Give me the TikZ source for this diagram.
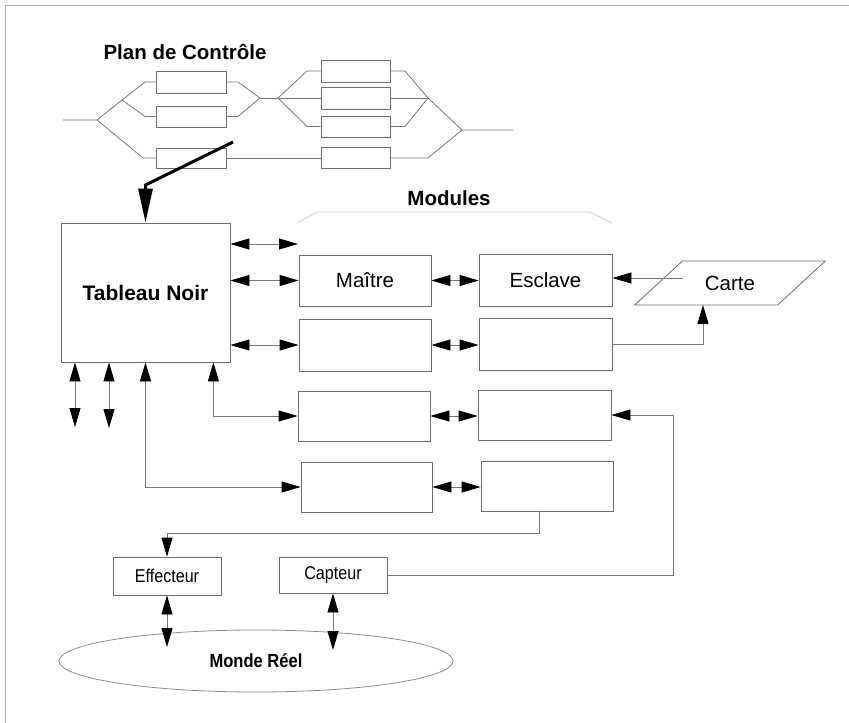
\documentclass[tikz,border=0pt]{standalone}
\usepackage{fontspec}
\setmainfont{Liberation Sans}
\newfontfamily\narrowsans[FakeStretch=0.87]{Liberation Sans}
\usetikzlibrary{arrows.meta,shapes.geometric,calc}
\definecolor{boxgray}{RGB}{110,110,110}
\definecolor{linegray}{RGB}{120,120,120}
\definecolor{framegray}{RGB}{175,175,175}
\definecolor{ellgray}{RGB}{140,140,140}
\definecolor{faintgray}{RGB}{205,205,205}
\begin{document}
\begin{tikzpicture}[x=1pt,y=-1pt,
  box/.style 2 args={draw=boxgray,line width=0.8pt,inner sep=0pt,minimum width=#1,minimum height=#2},
  title/.style={font=\fontsize{20.5}{24}\selectfont\bfseries},
  bigtxt/.style={font=\fontsize{20.5}{24}\selectfont},
  smalltxt/.style={font=\narrowsans\fontsize{18.5}{22}\selectfont},
  conn/.style={draw=linegray,line width=0.8pt},
  >={Triangle[length=19pt,width=11pt,color=black]},
  bigarrow/.style={draw=black,line width=3pt,-{Triangle[length=34pt,width=14pt,color=black]}}]
\fill[white] (0,0) rectangle (849,723);
\useasboundingbox (0,0) rectangle (849,723);
% page frame
\draw[framegray,line width=1pt] (5,723) -- (5,5) -- (849,5);

% ---------- Plan de Controle ----------
\node[title] (plan) at (185,52) {Plan de Contrôle};
\node[box={70}{22}] (cp1) at (191,82) {};
\node[box={70}{21}] (cp2) at (191,116.5) {};
\node[box={70}{20}] (cp3) at (191,158) {};
\node[box={69}{22}] (cp4) at (355.5,71) {};
\node[box={69}{22}] (cp5) at (355.5,98) {};
\node[box={69}{21}] (cp6) at (355.5,126.5) {};
\node[box={69}{21}] (cp7) at (355.5,158) {};
\coordinate (in) at (63,120);
\coordinate (j1) at (97,120);
\coordinate (j2) at (122,100);
\coordinate (j3) at (260,98);
\coordinate (j4) at (278,98);
\coordinate (j5) at (428,98);
\coordinate (j6) at (462,130);
\coordinate (out) at (513,130);
\draw[conn] (in) -- (j1) -- (j2) -- (145,82) -- (cp1.west);
\draw[conn] (j2) -- (145,116.5) -- (cp2.west);
\draw[conn] (j1) -- (143,158) -- (cp3.west);
\draw[conn] (cp1.east) -- (238,82) -- (j3);
\draw[conn] (cp2.east) -- (238,116.5) -- (j3);
\draw[conn] (j3) -- (j4);
\draw[conn] (j4) -- (307,71) -- (cp4.west);
\draw[conn] (j4) -- (cp5.west);
\draw[conn] (j4) -- (307,126.5) -- (cp6.west);
\draw[conn] (cp4.east) -- (405,71) -- (j5);
\draw[conn] (cp5.east) -- (j5);
\draw[conn] (cp6.east) -- (405,126.5) -- (j5);
\draw[conn] (j5) -- (j6) -- (out);
\draw[conn] (cp7.east) -- (428,158) -- (j6);
\draw[conn] (cp3.east) -- (cp7.west);

% ---------- Tableau Noir ----------
\node[box={169}{139},font=\fontsize{21}{25}\selectfont\bfseries] (tn) at (145.5,292.5) {Tableau Noir};
\coordinate (ts) at (233,142);
\draw[bigarrow] (ts) -- (145.5,185) -- (tn.north);

% ---------- Modules ----------
\node[title] (mod) at (449,198) {Modules};
\draw[faintgray,line width=0.8pt] (297,223) -- (317,212) -- (590,212) -- (612,223);
\node[box={132}{51},bigtxt] (m1) at (365,280.5) {Maître};
\node[box={133}{52},bigtxt] (s1) at (545.5,280) {Esclave};
\node[box={132}{52}] (m2) at (365,345) {};
\node[box={133}{52}] (s2) at (545.5,344) {};
\node[box={132}{50}] (m3) at (364,416) {};
\node[box={133}{50}] (s3) at (544.5,415) {};
\node[box={131}{50}] (m4) at (366.5,487) {};
\node[box={132}{50}] (s4) at (547,486) {};
\foreach \a/\b in {m1/s1,m2/s2,m3/s3,m4/s4}
  \draw[conn,<->] (\a.east) -- (\a.east -| \b.west);

% Tableau Noir to modules
\coordinate (free) at (298,244);
\draw[conn,<->] (free -| tn.east) -- (free);
\draw[conn,<->] (m1.west -| tn.east) -- (m1.west);
\draw[conn,<->] (m2.west -| tn.east) -- (m2.west);
\draw[conn,<->] ($(tn.south east)+(-17,0)$) |- (m3.west);
\draw[conn,<->] (tn.south) |- (m4.west);
\coordinate (d1) at (75,427);
\coordinate (d2) at (109,428);
\draw[conn,<->] (d1 |- tn.south) -- (d1);
\draw[conn,<->] (d2 |- tn.south) -- (d2);

% ---------- Carte ----------
\node[draw=boxgray,line width=0.8pt,trapezium,trapezium left angle=30,trapezium right angle=150,
  trapezium stretches=true,minimum width=192pt,minimum height=44pt,inner sep=0pt,bigtxt] (carte) at (730,283) {Carte};
\coordinate (cl) at (683,278);
\coordinate (cb) at (703,305);
\draw[conn,->] (cl) -- (cl -| s1.east);
\draw[conn,->] (s2.east) -| (cb);

% ---------- Effecteur / Capteur ----------
\node[box={108}{38},smalltxt] (eff) at (167,576) {Effecteur};
\node[box={108}{36},smalltxt] (cap) at (333,575) {Capteur};
\draw[conn,->] ($(s4.south)+(-8,0)$) -- ++(0,22) -| (eff.north);
\coordinate (k) at (673,415);
\draw[conn,->] (cap.east) -| (k) -- (k -| s3.east);

% ---------- Monde Reel ----------
\node[draw=ellgray,line width=0.8pt,ellipse,minimum width=394pt,minimum height=62pt,inner sep=0pt,
  font=\narrowsans\fontsize{19}{22}\selectfont\bfseries] (monde) at (256,661) {Monde Réel};
\coordinate (w1) at (167,647);
\coordinate (w2) at (333,650);
\draw[conn,<->] (eff.south) -- (w1);
\draw[conn,<->] (cap.south) -- (w2);
\end{tikzpicture}
\end{document}
